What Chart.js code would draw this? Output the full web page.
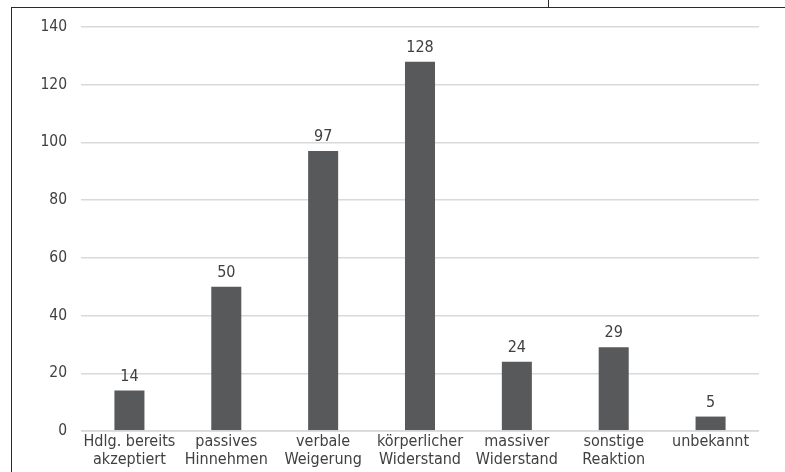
<!DOCTYPE html>
<html>
<head>
<meta charset="utf-8">
<script src="https://cdn.jsdelivr.net/npm/chart.js@4"></script>
<style>
  html, body { margin: 0; padding: 0; background: #fff; }
  #wrap { position: relative; width: 785px; height: 472px; }
  #frame { position: absolute; left: 11px; top: 7px; right: 0; bottom: 0;
           border-left: 1px solid #2b2b2b; border-top: 1px solid #2b2b2b; pointer-events: none; }
  #tick { position: absolute; left: 548px; top: 0; width: 1px; height: 7px; background: #2b2b2b; }
  canvas { position: absolute; left: 0; top: 0; }
</style>
</head>
<body>
<div id="wrap">
  <canvas id="myChart" width="785" height="472"></canvas>
  <div id="frame"></div>
  <div id="tick"></div>
</div>
<script>
const labels = [
  ["Hdlg. bereits", "akzeptiert"],
  ["passives", "Hinnehmen"],
  ["verbale", "Weigerung"],
  ["körperlicher", "Widerstand"],
  ["massiver", "Widerstand"],
  ["sonstige", "Reaktion"],
  ["unbekannt"],
];
const counts = [14, 50, 97, 128, 24, 29, 5];
const yTicks = [0, 20, 40, 60, 80, 100, 120, 140];

const fontFamily = "'DejaVu Sans Condensed', 'DejaVu Sans', sans-serif";
const textColor = "#404040";
const gridColor = "#d9d9d9";

// value labels on top of each bar + the zero line drawn over the bars
const barLabels = {
  id: "barLabels",
  afterDatasetsDraw(chart) {
    const ctx = chart.ctx;
    const y = chart.scales.y;
    const area = chart.chartArea;
    ctx.save();
    ctx.strokeStyle = gridColor;
    ctx.lineWidth = 1.5;
    ctx.beginPath();
    ctx.moveTo(area.left, y.getPixelForValue(0));
    ctx.lineTo(area.right, y.getPixelForValue(0));
    ctx.stroke();

    ctx.fillStyle = textColor;
    ctx.font = "16px " + fontFamily;
    ctx.textAlign = "center";
    ctx.textBaseline = "bottom";
    chart.getDatasetMeta(0).data.forEach((bar, i) => {
      ctx.fillText(String(counts[i]), bar.x, bar.y - 6);
    });
    ctx.restore();
  },
};

const ctx = document.getElementById("myChart").getContext("2d");
new Chart(ctx, {
  type: "bar",
  data: {
    labels: labels,
    datasets: [
      {
        data: counts,
        backgroundColor: "#58595b",
        barPercentage: 1,
        categoryPercentage: 0.31,
      },
    ],
  },
  options: {
    responsive: false,
    animation: false,
    layout: { padding: { top: 27, right: 26, bottom: 0, left: 0 } },
    plugins: {
      legend: { display: false },
      tooltip: { enabled: false },
    },
    scales: {
      x: {
        grid: { display: false, drawTicks: false },
        border: { display: false },
        ticks: {
          color: textColor,
          padding: 2,
          maxRotation: 0,
          autoSkip: false,
          font: { family: fontFamily, size: 16, lineHeight: 1.12 },
        },
        afterFit(scale) { scale.height = 41; },
      },
      y: {
        min: 0,
        max: 140,
        afterBuildTicks(scale) { scale.ticks = yTicks.map((v) => ({ value: v })); },
        grid: { color: gridColor, lineWidth: 1.5, drawTicks: false },
        border: { display: false },
        ticks: {
          color: textColor,
          padding: 14,
          font: { family: fontFamily, size: 15.5 },
        },
        afterFit(scale) { scale.width = 81; },
      },
    },
  },
  plugins: [barLabels],
});
</script>
</body>
</html>
